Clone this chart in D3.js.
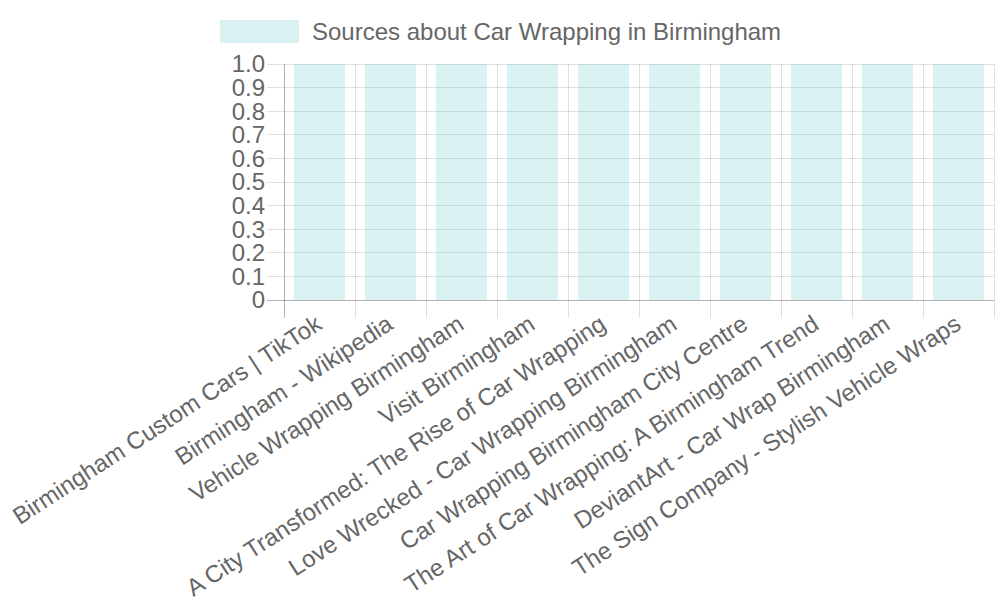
<!DOCTYPE html>
<html><head><meta charset="utf-8">
<script src="https://cdn.jsdelivr.net/npm/d3@7"></script>
<style>body{margin:0;background:#fff}svg{display:block;font-family:"Liberation Sans",Arial,sans-serif}</style>
</head><body>
<svg id="c" width="1000" height="600"></svg>
<script>
const categories = ["Birmingham Custom Cars | TikTok","Birmingham - Wikipedia","Vehicle Wrapping Birmingham","Visit Birmingham","A City Transformed: The Rise of Car Wrapping","Love Wrecked - Car Wrapping Birmingham","Car Wrapping Birmingham City Centre","The Art of Car Wrapping: A Birmingham Trend","DeviantArt - Car Wrap Birmingham","The Sign Company - Stylish Vehicle Wraps"];
const values = [1,1,1,1,1,1,1,1,1,1];
const yTicks = [0,0.1,0.2,0.3,0.4,0.5,0.6,0.7,0.8,0.9,1.0];
const seriesName = "Sources about Car Wrapping in Birmingham";

const svg = d3.select("#c");
const L = 284, R = 994, T = 64, B = 300;
const x = d3.scaleBand().domain(categories).range([L, R]).paddingInner(0).paddingOuter(0);
const y = d3.scaleLinear().domain([0, 1]).range([B, T]);
const fill = "rgba(75,192,192,0.2)";
const textCol = "#666";
const grid = "rgba(0,0,0,0.12)";

// horizontal grid + ticks
svg.append("g").selectAll("line").data(yTicks).join("line")
  .attr("x1", L - 17).attr("x2", R).attr("y1", d => y(d)).attr("y2", d => y(d))
  .attr("stroke", d => d === 0 ? "rgba(0,0,0,0.3)" : grid).attr("stroke-width", 1)
  .attr("shape-rendering", "crispEdges");
// vertical grid
const vx = categories.map(c => x(c)).concat([R]);
svg.append("g").selectAll("line").data(vx).join("line")
  .attr("x1", d => d).attr("x2", d => d).attr("y1", T).attr("y2", B + 18)
  .attr("stroke", (d, i) => i === 0 ? "rgba(0,0,0,0.3)" : grid).attr("stroke-width", 1)
  .attr("shape-rendering", "crispEdges");

// y labels
svg.append("g").selectAll("text").data(yTicks).join("text")
  .attr("x", L - 19).attr("y", d => y(d)).attr("dy", "0.35em")
  .attr("text-anchor", "end").attr("font-size", 24).attr("fill", textCol)
  .text(d => d === 0 ? "0" : d3.format(".1f")(d));

// bars
const bw = x.bandwidth() * 0.72;
svg.append("g").selectAll("rect").data(categories).join("rect")
  .attr("x", (d) => x(d) + (x.bandwidth() - bw) / 2)
  .attr("width", bw)
  .attr("y", (d, i) => y(values[i]))
  .attr("height", (d, i) => y(0) - y(values[i]))
  .attr("fill", fill);

// x labels
svg.append("g").selectAll("text").data(categories).join("text")
  .attr("transform", d => `translate(${x(d) + x.bandwidth() / 2 + 4},${B + 28}) rotate(-33)`)
  .attr("text-anchor", "end").attr("font-size", 24).attr("fill", textCol)
  .text(d => d);

// legend
svg.append("rect").attr("x", 220).attr("y", 20).attr("width", 79).attr("height", 23).attr("fill", fill);
svg.append("text").attr("x", 312).attr("y", 32).attr("dy", "0.35em").attr("font-size", 24)
  .attr("fill", textCol).text(seriesName);
</script>
</body></html>
